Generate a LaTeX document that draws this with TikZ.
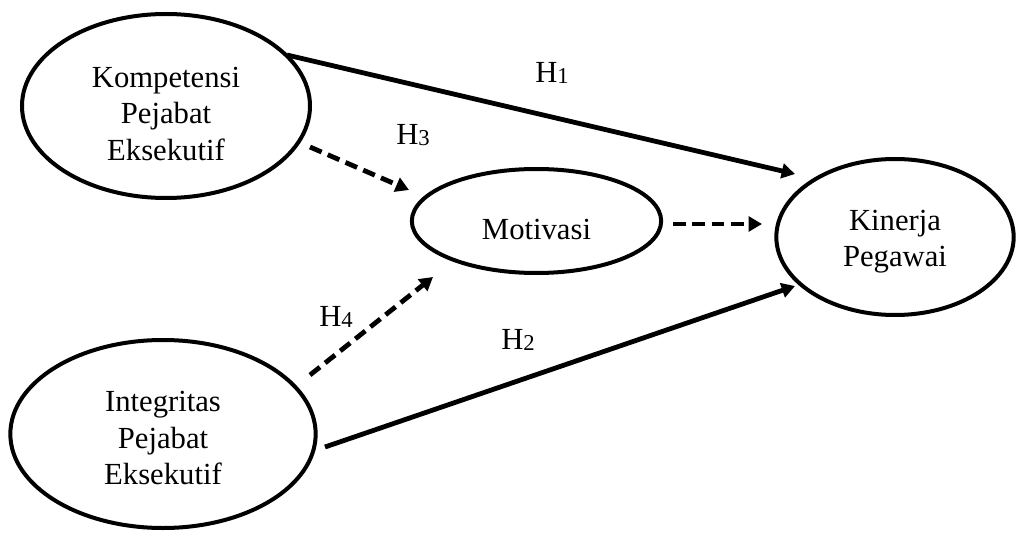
\documentclass[tikz,border=0pt]{standalone}
\usepackage{fontspec}
\setmainfont{Liberation Serif}
\usetikzlibrary{arrows.meta,shapes.geometric}
\newcommand{\tophgt}[1]{\rule{0pt}{#1}}
\newcommand{\hlab}[1]{H\raisebox{-1pt}{\fontsize{17}{17}\selectfont #1}}
\tikzset{
  var/.style={ellipse,draw,line width=3pt,inner sep=0pt,align=center,
    font=\fontsize{23}{27.5}\selectfont},
  conn/.style={line width=3.6pt,-{Triangle[length=10pt,width=11pt]}},
  dconn/.style={conn,dash pattern=on 9.5pt off 5pt},
  hyp/.style={font=\fontsize{23}{27}\selectfont,inner sep=0pt}
}
\begin{document}
\begin{tikzpicture}[x=0.75pt,y=-0.75pt]
\useasboundingbox (0,0) rectangle (1016,538);
\node[var,minimum width=216pt,minimum height=138pt] (komp) at (166,106)
  {\tophgt{27pt}Kompetensi\\Pejabat\\Eksekutif};
\node[var,minimum width=229pt,minimum height=141pt] (integ) at (163,434)
  {\tophgt{21.5pt}Integritas\\Pejabat\\Eksekutif};
\node[var,minimum width=187pt,minimum height=78pt] (motiv) at (536.5,221)
  {\tophgt{28.5pt}Motivasi};
\node[var,minimum width=178pt,minimum height=117pt] (kin) at (895,237)
  {\tophgt{22pt}Kinerja\\Pegawai};

\coordinate (h1s) at (287,55);  \coordinate (h1e) at (795,174);
\coordinate (h3s) at (310,147); \coordinate (h3e) at (409,190);
\coordinate (h4s) at (310,375); \coordinate (h4e) at (433,277);
\coordinate (mks) at (673,224); \coordinate (mke) at (762,224);
\coordinate (h2s) at (325,447); \coordinate (h2e) at (795,286);

\draw[conn] (h1s) -- (h1e);
\draw[dconn] (h3s) -- (h3e);
\draw[dconn] (h4s) -- (h4e);
\draw[dconn] (mks) -- (mke);
\draw[conn] (h2s) -- (h2e);

\node[hyp] (lh1) at (552,73) {\hlab{1}};
\node[hyp] (lh3) at (413,135) {\hlab{3}};
\node[hyp] (lh4) at (336,317) {\hlab{4}};
\node[hyp] (lh2) at (518,340) {\hlab{2}};
\end{tikzpicture}
\end{document}
